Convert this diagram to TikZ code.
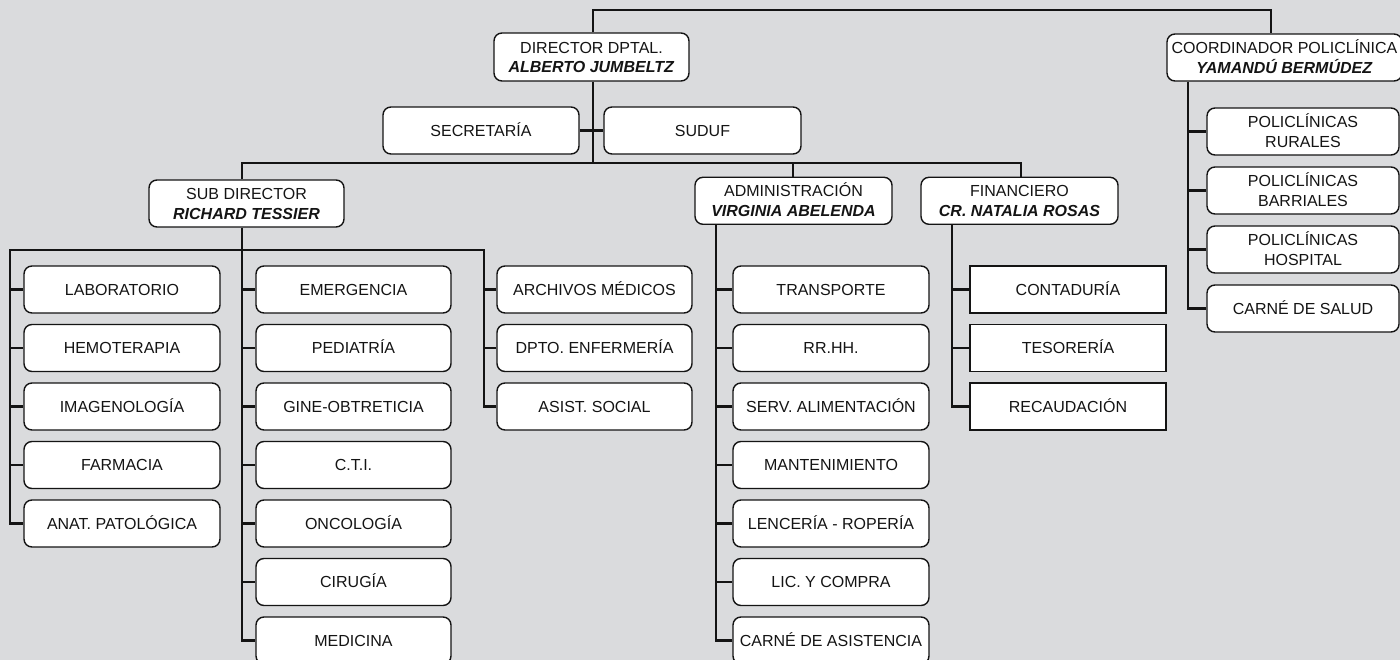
\documentclass[tikz,border=0pt]{standalone}
\usepackage{fontspec}
\setmainfont{Liberation Sans}
\definecolor{bg}{RGB}{218,219,221}
\definecolor{ink}{RGB}{20,20,20}
\begin{document}
\begin{tikzpicture}[x=1pt,y=-1pt,
  box/.style={draw=ink, fill=white, line width=1.4pt, rounded corners=8pt, minimum height=47pt, minimum width=196pt, inner sep=0pt, align=center, text=ink, font=\fontsize{16}{19.5}\selectfont, text height=11.6pt, text depth=0pt},
  two/.style={text height=31.1pt, text depth=0pt},
  sqbox/.style={box, rounded corners=0pt},
  link/.style={draw=ink, line width=2.6pt, line join=miter}]
\useasboundingbox (0,0) rectangle (1400,660);
\fill[bg] (0,0) rectangle (1400,660);

% top level
\node[box, two, minimum width=195pt, minimum height=48pt] (dir) at (591.5,57) {DIRECTOR DPTAL.\\\textbf{\textit{ALBERTO JUMBELTZ}}};
\node[box, two, minimum width=235pt] (coord) at (1284.5,57.5) {COORDINADOR POLICLÍNICA\\\textbf{\textit{YAMANDÚ BERMÚDEZ}}};
\node[box] (sec) at (481,130.5) {SECRETARÍA};
\node[box, minimum width=197pt] (suduf) at (702.5,130.5) {SUDUF};

% second level
\node[box, two, minimum width=195pt] (sub) at (246.5,203.5) {SUB DIRECTOR\\\textbf{\textit{RICHARD TESSIER}}};
\node[box, two, minimum width=197pt] (adm) at (793.5,200.8) {ADMINISTRACIÓN\\\textbf{\textit{VIRGINIA ABELENDA}}};
\node[box, two, minimum width=197pt] (fin) at (1019.5,200.8) {FINANCIERO\\\textbf{\textit{CR. NATALIA ROSAS}}};

% left column
\node[box] (l1) at (122,289.5) {LABORATORIO};
\node[box] (l2) at (122,348) {HEMOTERAPIA};
\node[box] (l3) at (122,406.5) {IMAGENOLOGÍA};
\node[box] (l4) at (122,465) {FARMACIA};
\node[box] (l5) at (122,523.5) {ANAT. PATOLÓGICA};

% middle column
\node[box, minimum width=195pt] (m1) at (353.5,289.5) {EMERGENCIA};
\node[box, minimum width=195pt] (m2) at (353.5,348) {PEDIATRÍA};
\node[box, minimum width=195pt] (m3) at (353.5,406.5) {GINE-OBTRETICIA};
\node[box, minimum width=195pt] (m4) at (353.5,465) {C.T.I.};
\node[box, minimum width=195pt] (m5) at (353.5,523.5) {ONCOLOGÍA};
\node[box, minimum width=195pt] (m6) at (353.5,582) {CIRUGÍA};
\node[box, minimum width=195pt] (m7) at (353.5,640.5) {MEDICINA};

% third column
\node[box, minimum width=195pt] (r1) at (594.5,289.5) {ARCHIVOS MÉDICOS};
\node[box, minimum width=195pt] (r2) at (594.5,348) {DPTO. ENFERMERÍA};
\node[box, minimum width=195pt] (r3) at (594.5,406.5) {ASIST. SOCIAL};

% administration
\node[box] (a1) at (831,289.5) {TRANSPORTE};
\node[box] (a2) at (831,348) {RR.HH.};
\node[box] (a3) at (831,406.5) {SERV. ALIMENTACIÓN};
\node[box] (a4) at (831,465) {MANTENIMIENTO};
\node[box] (a5) at (831,523.5) {LENCERÍA - ROPERÍA};
\node[box] (a6) at (831,582) {LIC. Y COMPRA};
\node[box] (a7) at (831,640.5) {CARNÉ DE ASISTENCIA};

% financiero
\node[sqbox] (f1) at (1068,289.5) {CONTADURÍA};
\node[sqbox] (f2) at (1068,348) {TESORERÍA};
\node[sqbox] (f3) at (1068,406.5) {RECAUDACIÓN};

% coordinador
\node[box, two, minimum width=192pt] (c1) at (1303,131.5) {POLICLÍNICAS\\RURALES};
\node[box, two, minimum width=192pt] (c2) at (1303,190.5) {POLICLÍNICAS\\BARRIALES};
\node[box, two, minimum width=192pt] (c3) at (1303,249.5) {POLICLÍNICAS\\HOSPITAL};
\node[box, minimum width=192pt] (c4) at (1303,308.5) {CARNÉ DE SALUD};

% connectors: top
\coordinate (topL) at (593,10);
\coordinate (topR) at (1271,10);
\draw[link] (topL |- dir.north) -- (topL) -- (topR) -- (topR |- coord.north);
\coordinate (bus) at (593,163);
\draw[link] (bus |- dir.south) -- (bus);
\draw[link] (sec.east) -- (suduf.west);
\coordinate (busL) at (242,163);
\coordinate (busA) at (793,163);
\coordinate (busR) at (1021,163);
\draw[link] (busL |- sub.north) -- (busL) -- (busR) -- (busR |- fin.north);
\draw[link] (busA) -- (busA |- adm.north);

% sub director
\coordinate (sT) at (242,250);
\coordinate (sL) at (10,250);
\coordinate (sR) at (484,250);
\draw[link] (sT |- sub.south) -- (sT |- m7.west) -- (m7.west);
\draw[link] (r3.west) -- (sR |- r3.west) -- (sR) -- (sL) -- (sL |- l5.west) -- (l5.west);
\foreach \n in {l1,l2,l3,l4} \draw[link] (sL |- \n.west) -- (\n.west);
\foreach \n in {m1,m2,m3,m4,m5,m6} \draw[link] (sT |- \n.west) -- (\n.west);
\foreach \n in {r1,r2} \draw[link] (sR |- \n.west) -- (\n.west);

% administration
\coordinate (aT) at (716,250);
\draw[link] (aT |- adm.south) -- (aT |- a7.west) -- (a7.west);
\foreach \n in {a1,a2,a3,a4,a5,a6} \draw[link] (aT |- \n.west) -- (\n.west);

% financiero
\coordinate (fT) at (952,250);
\draw[link] (fT |- fin.south) -- (fT |- f3.west) -- (f3.west);
\foreach \n in {f1,f2} \draw[link] (fT |- \n.west) -- (\n.west);

% coordinador
\coordinate (cT) at (1188,100);
\draw[link] (cT |- coord.south) -- (cT |- c4.west) -- (c4.west);
\foreach \n in {c1,c2,c3} \draw[link] (cT |- \n.west) -- (\n.west);
\end{tikzpicture}
\end{document}
